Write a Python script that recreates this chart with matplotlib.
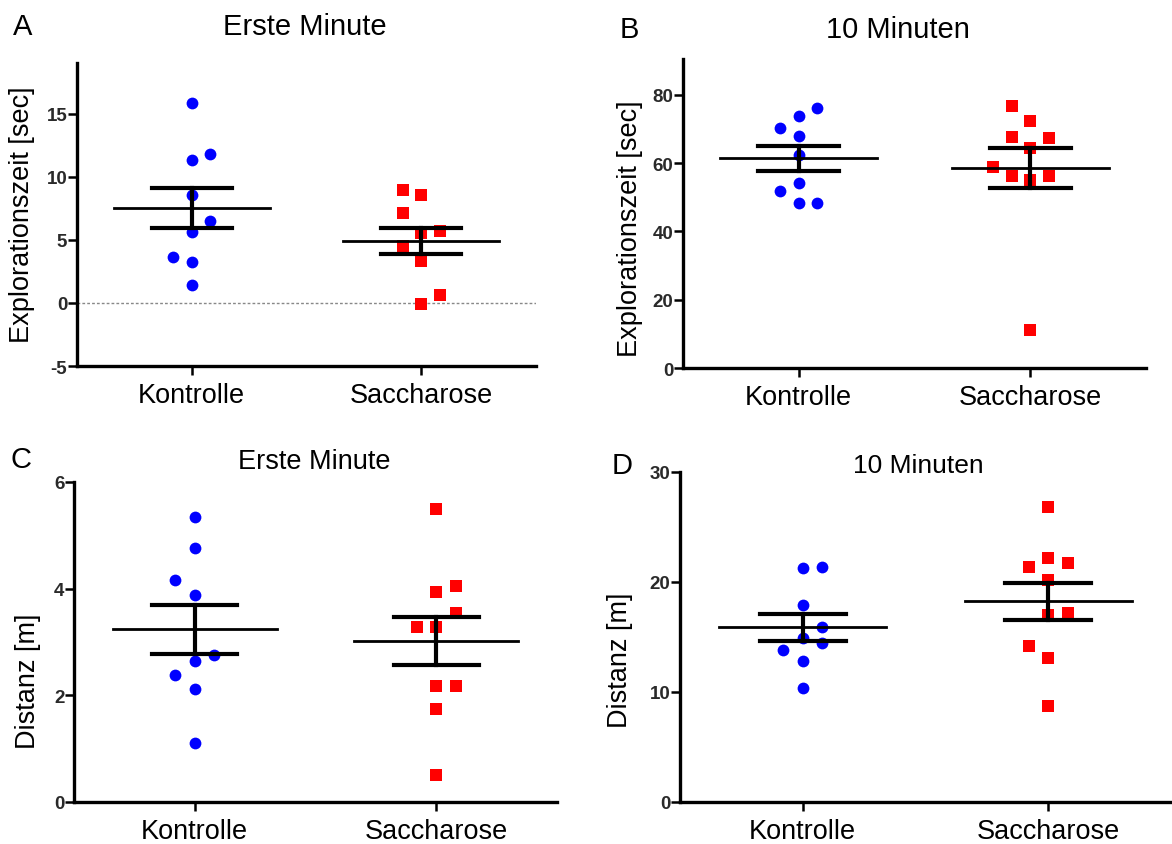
import numpy as np
import matplotlib
matplotlib.use("Agg")
import matplotlib.pyplot as plt

plt.rcParams['font.family'] = ['Liberation Sans', 'DejaVu Sans']

groups = ["Kontrolle", "Saccharose"]

# panel A: Explorationszeit, erste Minute
a_kontrolle = [15.8, 11.8, 11.3, 8.55, 6.45, 5.6, 3.6, 3.2, 1.45]
a_saccharose = [8.95, 8.55, 7.1, 5.7, 5.5, 4.5, 3.35, 0.6, -0.1]
# panel B: Explorationszeit, 10 Minuten
b_kontrolle = [76.1, 73.7, 70.2, 67.9, 62.3, 54.3, 51.7, 48.2, 48.2]
b_saccharose = [76.8, 72.2, 67.8, 67.4, 64.3, 59.0, 56.1, 56.1, 55.1, 11.1]
# panel C: Distanz, erste Minute
c_kontrolle = [5.35, 4.76, 4.16, 3.88, 2.75, 2.64, 2.39, 2.12, 1.1]
c_saccharose = [5.5, 4.05, 3.94, 3.55, 3.28, 3.28, 2.17, 2.17, 1.75, 0.5]
# panel D: Distanz, 10 Minuten
d_kontrolle = [21.3, 21.4, 17.9, 15.9, 14.9, 14.5, 13.8, 12.8, 10.4]
d_saccharose = [26.8, 22.2, 21.4, 21.7, 20.2, 17.2, 16.96, 14.2, 13.1, 8.75]

# horizontal jitter slots (scatter layout)
a_slots = ([0, 1, 0, 0, 1, 0, -1, 0, 0], [-1, 0, -1, 1, 0, -1, 0, 1, 0])
b_slots = ([1, 0, -1, 0, 0, 0, -1, 0, 1], [-1, 0, -1, 1, 0, -2, -1, 1, 0, 0])
c_slots = ([0, 0, -1, 0, 1, 0, -1, 0, 0], [0, 1, 0, 1, -1, 0, 0, 1, 0, 0])
d_slots = ([0, 1, 0, 1, 0, 1, -1, 0, 0], [0, 0, -1, 1, 0, 1, 0, -1, 0, 0])

W, H = 1172, 845
fig = plt.figure(figsize=(W / 100, H / 100), dpi=100)


def px_axes(l, r, t, b):
    return fig.add_axes([l / W, 1 - b / H, (r - l) / W, (b - t) / H])


def panel(ax, kon, sac, slots, ylim, yticks):
    step = 0.08
    for i, (vals, sl) in enumerate(zip([kon, sac], slots)):
        x = i + step * np.array(sl)
        if i == 0:
            ax.scatter(x, vals, s=72, marker='o', color='#0000ff', linewidths=0, zorder=2)
        else:
            ax.scatter(x, vals, s=64, marker='s', color='#ff0000', linewidths=0, zorder=2)
        v = np.array(vals)
        m = v.mean()
        sem = v.std(ddof=1) / np.sqrt(len(v))
        ax.plot([i - 0.34, i + 0.34], [m, m], color='black', lw=2.0, zorder=3)
        ax.plot([i - 0.175, i + 0.175], [m + sem, m + sem], color='black', lw=3.0, zorder=3)
        ax.plot([i - 0.175, i + 0.175], [m - sem, m - sem], color='black', lw=3.0, zorder=3)
        ax.plot([i, i], [m - sem, m + sem], color='black', lw=3.0, zorder=3)
    ax.set_xlim(-0.5, 1.5)
    ax.set_ylim(*ylim)
    ax.set_yticks(yticks)
    ax.set_yticklabels([str(t) for t in yticks], fontsize=13.5, fontweight='bold', color='#2a2a2a')
    ax.set_xticks([0, 1])
    ax.set_xticklabels(groups, fontsize=19.5)
    ax.tick_params(axis='y', length=6.5, width=1.8, pad=0.5)
    ax.tick_params(axis='x', length=6.5, width=1.8, pad=5)
    for s in ['top', 'right']:
        ax.spines[s].set_visible(False)
    for s in ['left', 'bottom']:
        ax.spines[s].set_linewidth(2.4)
    ax.set_facecolor('none')


axA = px_axes(77, 536, 64, 367)
axA.axhline(0, color='#888888', lw=1, ls=(0, (2, 1.5)), zorder=1)
panel(axA, a_kontrolle, a_saccharose, a_slots, (-5, 19), [-5, 0, 5, 10, 15])

axB = px_axes(683, 1146, 60, 369)
panel(axB, b_kontrolle, b_saccharose, b_slots, (0, 90.5), [0, 20, 40, 60, 80])

axC = px_axes(74, 557, 483, 803)
panel(axC, c_kontrolle, c_saccharose, c_slots, (0, 6), [0, 2, 4, 6])

axD = px_axes(680, 1171, 473, 803)
panel(axD, d_kontrolle, d_saccharose, d_slots, (0, 30), [0, 10, 20, 30])


def ftext(x, y, s, size, **kw):
    fig.text(x / W, 1 - y / H, s, fontsize=size, va='center', **kw)


ftext(13, 27, "A", 21)
ftext(305, 27, "Erste Minute", 21, ha='center')
ftext(620, 30, "B", 21)
ftext(898, 30, "10 Minuten", 21, ha='center')
ftext(10, 460, "C", 21)
ftext(314, 462, "Erste Minute", 19.5, ha='center')
ftext(612, 466, "D", 21)
ftext(918, 466, "10 Minuten", 19, ha='center')

ftext(22, 215, "Explorationszeit [sec]", 19.5, ha='center', rotation=90)
ftext(630, 229, "Explorationszeit [sec]", 19.5, ha='center', rotation=90)
ftext(28, 681, "Distanz [m]", 19.5, ha='center', rotation=90)
ftext(620, 660, "Distanz [m]", 19.5, ha='center', rotation=90)

fig.savefig("out.png", dpi=100, facecolor='white')
